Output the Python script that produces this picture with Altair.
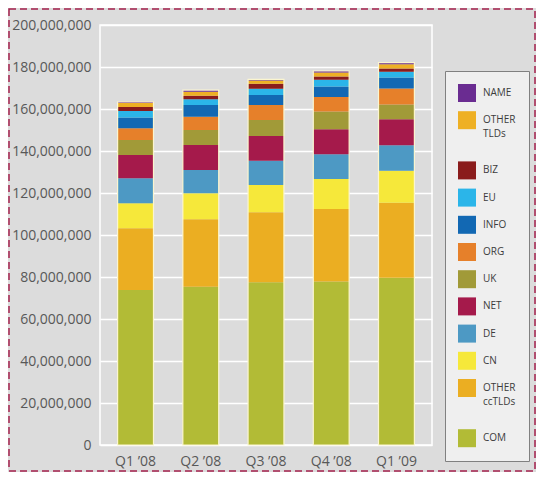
import altair as alt
import pandas as pd

quarters = ["Q1 ’08", "Q2 ’08", "Q3 ’08", "Q4 ’08", "Q1 ’09"]

# stacked from the bottom (Com) to the top (Name); values in domains
series = ["Com", "Other ccTLDs", "Cn", "De", "Net", "Uk", "Org", "Info",
          "Eu", "Biz", "Other TLDs", "Name"]
com          = [73.8e6, 75.4e6, 77.5e6, 77.8e6, 79.7e6]
other_cctlds = [29.4e6, 32.1e6, 33.3e6, 34.6e6, 35.7e6]
cn           = [11.9e6, 12.4e6, 13.0e6, 14.3e6, 15.2e6]
de           = [11.9e6, 11.1e6, 11.6e6, 11.8e6, 12.1e6]
net          = [11.1e6, 11.9e6, 11.8e6, 11.9e6, 12.4e6]
uk           = [7.1e6, 7.1e6, 7.6e6, 8.4e6, 7.1e6]
org          = [5.6e6, 6.3e6, 7.1e6, 6.9e6, 7.6e6]
info         = [5.1e6, 5.6e6, 4.8e6, 5.0e6, 5.2e6]
eu           = [3.2e6, 2.7e6, 2.9e6, 3.2e6, 2.7e6]
biz          = [1.8e6, 1.7e6, 2.4e6, 1.6e6, 1.6e6]
other_tlds   = [1.9e6, 1.9e6, 1.6e6, 1.9e6, 2.0e6]
name         = [0.6e6, 0.8e6, 0.5e6, 0.7e6, 0.8e6]

colors = ["#b2bb36", "#ebae22", "#f6e83a", "#4d99c4", "#a51a4b", "#a19a38",
          "#e6802a", "#1268b3", "#2bb5e9", "#8a1c1c", "#eeb024", "#6a2c91"]

y_ticks = [0, 20e6, 40e6, 60e6, 80e6, 100e6, 120e6, 140e6, 160e6, 180e6, 200e6]

values = [com, other_cctlds, cn, de, net, uk, org, info, eu, biz, other_tlds, name]
rows = []
for rank, (s, vals) in enumerate(zip(series, values)):
    for q, v in zip(quarters, vals):
        rows.append({"quarter": q, "series": s, "value": v, "rank": rank})
df = pd.DataFrame(rows)

FONT = "Open Sans"

# small-caps style labels; two-line labels get a blank (no-break space) last
# line so that the first written line sits level with its swatch
legend_expr = ("datum.label == 'Other TLDs' ? ['OTHER', 'TLDs', '\u00a0'] : "
               "datum.label == 'Other ccTLDs' ? ['OTHER', 'ccTLDs', '\u00a0'] : "
               "upper(datum.label)")

x_enc = alt.X("quarter:N", sort=quarters,
              scale=alt.Scale(paddingInner=0.45, paddingOuter=0.27),
              axis=alt.Axis(title=None, labelAngle=0, domain=False, ticks=False,
                            labelPadding=9, labelFontSize=14, labelColor="#585858",
                            labelFont=FONT, grid=False))

bars = alt.Chart(df).mark_bar().encode(
    x=x_enc,
    y=alt.Y("value:Q", stack="zero",
            scale=alt.Scale(domain=[0, 200e6], nice=False),
            axis=alt.Axis(title=None, values=y_ticks, format=",d", domain=False,
                          ticks=False, labelPadding=9, labelFontSize=14,
                          labelColor="#585858", labelFont=FONT,
                          grid=True, gridColor="white", gridWidth=1.5)),
    color=alt.Color("series:N",
                    scale=alt.Scale(domain=series[::-1], range=colors[::-1]),
                    legend=alt.Legend(title=None, orient="none", legendX=345,
                                      legendY=46, direction="vertical",
                                      symbolType="square", symbolSize=324,
                                      symbolStrokeWidth=0, symbolOpacity=1,
                                      labelExpr=legend_expr, labelFont=FONT,
                                      labelFontSize=10, labelColor="#3c3c3c",
                                      labelOffset=7, rowPadding=9.2,
                                      padding=13, fillColor="#efefef",
                                      strokeColor="#808080")),
    order=alt.Order("rank:Q", sort="ascending"),
)

outline = alt.Chart(df).mark_bar(fillOpacity=0, stroke="#fbf5cf",
                                 strokeWidth=1.2).encode(
    x=alt.X("quarter:N", sort=quarters),
    y=alt.Y("sum(value):Q"),
)

frame = alt.Chart(alt.Data(values=[{}])).mark_rect(
    fillOpacity=0, stroke="#a3204c", strokeWidth=1.5, strokeDash=[7, 4]
).encode(x=alt.value(-91), x2=alt.value(435), y=alt.value(-16), y2=alt.value(446))

chart = alt.layer(bars, outline, frame).properties(
    width=332, height=420,
    autosize=alt.AutoSizeParams(type="none"),
    padding={"left": 92, "top": 17, "right": 104, "bottom": 27},
    background="#dcdcdc",
).configure(
    style={"guide-label": {"lineHeight": 13.5}},
    view=alt.ViewConfig(stroke="white", strokeWidth=1.5, fill="#dcdcdc"),
)

chart.save("out.html", embed_options={"renderer": "svg", "actions": False})
